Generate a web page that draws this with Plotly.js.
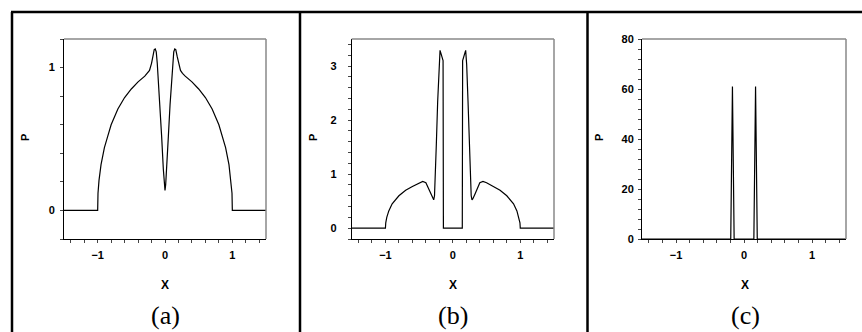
<!DOCTYPE html>
<html>
<head>
<meta charset="utf-8">
<script src="https://cdn.plot.ly/plotly-3.0.1.min.js"></script>
<style>
  html, body { margin: 0; padding: 0; background: #fff; }
  #chart { width: 862px; height: 332px; }
</style>
</head>
<body>
<div id="chart"></div>
<script>
// Panel (a)
const xA = [-1.5, -1.0, -0.995, -0.98, -0.95, -0.9, -0.85, -0.8, -0.7, -0.6, -0.5, -0.4, -0.3, -0.26, -0.23, -0.2, -0.18, -0.16, -0.145, -0.13, -0.115, -0.1, -0.075, -0.05, -0.025, -0.01, 0,
            0.01, 0.025, 0.05, 0.075, 0.1, 0.115, 0.13, 0.145, 0.16, 0.18, 0.2, 0.23, 0.26, 0.3, 0.4, 0.5, 0.6, 0.7, 0.8, 0.85, 0.9, 0.95, 0.98, 0.995, 1.0, 1.5];
const pA = [0, 0, 0.12, 0.21, 0.32, 0.44, 0.52, 0.60, 0.71, 0.79, 0.85, 0.90, 0.94, 0.96, 0.98, 1.03, 1.08, 1.125, 1.13, 1.11, 1.03, 0.92, 0.74, 0.52, 0.29, 0.18, 0.14,
            0.18, 0.29, 0.52, 0.74, 0.92, 1.03, 1.11, 1.13, 1.125, 1.08, 1.03, 0.98, 0.96, 0.94, 0.90, 0.85, 0.79, 0.71, 0.60, 0.52, 0.44, 0.32, 0.21, 0.12, 0, 0];

// Panel (b)
const xB = [-1.5, -1.0, -0.995, -0.98, -0.95, -0.9, -0.8, -0.7, -0.6, -0.5, -0.447, -0.4, -0.373, -0.324, -0.295, -0.284, -0.272, -0.26, -0.245, -0.225, -0.205, -0.19, -0.145, -0.14,
            0.14, 0.145, 0.19, 0.205, 0.225, 0.245, 0.26, 0.272, 0.284, 0.295, 0.324, 0.373, 0.4, 0.447, 0.5, 0.6, 0.7, 0.8, 0.9, 0.95, 0.98, 0.995, 1.0, 1.5];
const pB = [0, 0, 0.1, 0.2, 0.32, 0.45, 0.6, 0.70, 0.77, 0.84, 0.865, 0.84, 0.77, 0.62, 0.54, 0.525, 0.6, 0.9, 1.55, 2.35, 3.03, 3.29, 3.1, 0,
            0, 3.1, 3.29, 3.03, 2.35, 1.55, 0.9, 0.6, 0.525, 0.54, 0.62, 0.77, 0.84, 0.865, 0.84, 0.77, 0.70, 0.6, 0.45, 0.32, 0.2, 0.1, 0, 0];

// Panel (c)
const xC = [-1.5, -0.195, -0.17, -0.145, 0.145, 0.17, 0.195, 1.5];
const pC = [0, 0, 61, 0, 0, 61, 0, 0];

const panelLabels = ['(a)', '(b)', '(c)'];

const W = 862, H = 332;
const px = v => v / W;
const py = v => 1 - v / H;

const tickFont = { family: 'Liberation Sans, Arial, sans-serif', size: 11, color: '#000', weight: 'bold' };
const titleFont = { family: 'Liberation Sans, Arial, sans-serif', size: 12, color: '#000', weight: 'bold' };

function xAxis(domain, anchor) {
    return {
        domain: domain, anchor: anchor, range: [-1.5, 1.5], dtick: 1,
        showgrid: false, zeroline: false, showline: true, linecolor: '#000', linewidth: 1,
        ticks: 'outside', ticklen: 3, tickcolor: '#444', tickfont: tickFont, ticklabelstandoff: 3,
        minor: { dtick: 0.2, ticks: 'outside', ticklen: 3, tickcolor: '#444' },
        fixedrange: true
    };
}

function yAxis(range, dtick, minorDtick, anchor, labelOff) {
    return {
        domain: [py(239), py(39)], anchor: anchor, range: range, dtick: dtick,
        showgrid: false, zeroline: false, showline: true, linecolor: '#000', linewidth: 1,
        ticks: 'outside', ticklen: 3, tickcolor: '#444', tickfont: tickFont, ticklabelstandoff: labelOff,
        minor: { dtick: minorDtick, ticks: 'outside', ticklen: 3, tickcolor: '#444' },
        fixedrange: true
    };
}

const line = { color: '#000', width: 1.2 };
const traces = [
    { x: xA, y: pA, xaxis: 'x', yaxis: 'y', type: 'scatter', mode: 'lines', line: line },
    { x: xB, y: pB, xaxis: 'x2', yaxis: 'y2', type: 'scatter', mode: 'lines', line: line },
    { x: xC, y: pC, xaxis: 'x3', yaxis: 'y3', type: 'scatter', mode: 'lines', line: line }
];

// gray top/right frame for each plot
const frame = [];
['', '2', '3'].forEach(s => {
    frame.push({ type: 'line', xref: 'x' + s + ' domain', yref: 'y' + s + ' domain', x0: 0, x1: 1, y0: 1, y1: 1, line: { color: '#888', width: 1.5 } });
    frame.push({ type: 'line', xref: 'x' + s + ' domain', yref: 'y' + s + ' domain', x0: 1, x1: 1, y0: 0, y1: 1, line: { color: '#888', width: 1.5 } });
});

// outer box and dividers
const border = { color: '#000', width: 2.5 };
const boxes = [
    { type: 'line', xref: 'paper', yref: 'paper', x0: px(11), x1: 1, y0: py(12), y1: py(12), line: border },
    { type: 'line', xref: 'paper', yref: 'paper', x0: px(12), x1: px(12), y0: py(12), y1: 0, line: border },
    { type: 'line', xref: 'paper', yref: 'paper', x0: px(300), x1: px(300), y0: py(12), y1: 0, line: border },
    { type: 'line', xref: 'paper', yref: 'paper', x0: px(587.5), x1: px(587.5), y0: py(12), y1: 0, line: border }
];

// axis titles and panel letters
const centerX = [165, 453, 745];
const pTitleX = [25, 313, 599];
const annotations = [];
panelLabels.forEach((t, i) => {
    annotations.push({
        text: t, xref: 'paper', yref: 'paper', x: px(centerX[i]), y: py(315),
        xanchor: 'center', yanchor: 'middle', showarrow: false,
        font: { family: 'Liberation Serif, DejaVu Serif, serif', size: 26, color: '#000' }
    });
    annotations.push({
        text: 'X', xref: 'paper', yref: 'paper', x: px(centerX[i]), y: py(285),
        xanchor: 'center', yanchor: 'middle', showarrow: false, font: titleFont
    });
    annotations.push({
        text: 'P', xref: 'paper', yref: 'paper', x: px(pTitleX[i]), y: py(138),
        xanchor: 'center', yanchor: 'middle', showarrow: false, textangle: -90,
        font: { ...titleFont, size: 11 }
    });
});

const layout = {
    width: W, height: H,
    margin: { l: 0, r: 0, t: 0, b: 0 },
    paper_bgcolor: '#fff', plot_bgcolor: '#fff',
    showlegend: false,
    xaxis: xAxis([px(64), px(266)], 'y'),
    yaxis: yAxis([-0.2, 1.2], 1, 0.2, 'x', 3),
    xaxis2: xAxis([px(351.7), px(554)], 'y2'),
    yaxis2: yAxis([-0.2, 3.5], 1, 0.2, 'x2', 9),
    xaxis3: xAxis([px(642), px(846)], 'y3'),
    yaxis3: yAxis([0, 80], 20, 4, 'x3', 2),
    shapes: frame.concat(boxes),
    annotations: annotations
};

Plotly.newPlot('chart', traces, layout, { displayModeBar: false, staticPlot: true });
</script>
</body>
</html>
